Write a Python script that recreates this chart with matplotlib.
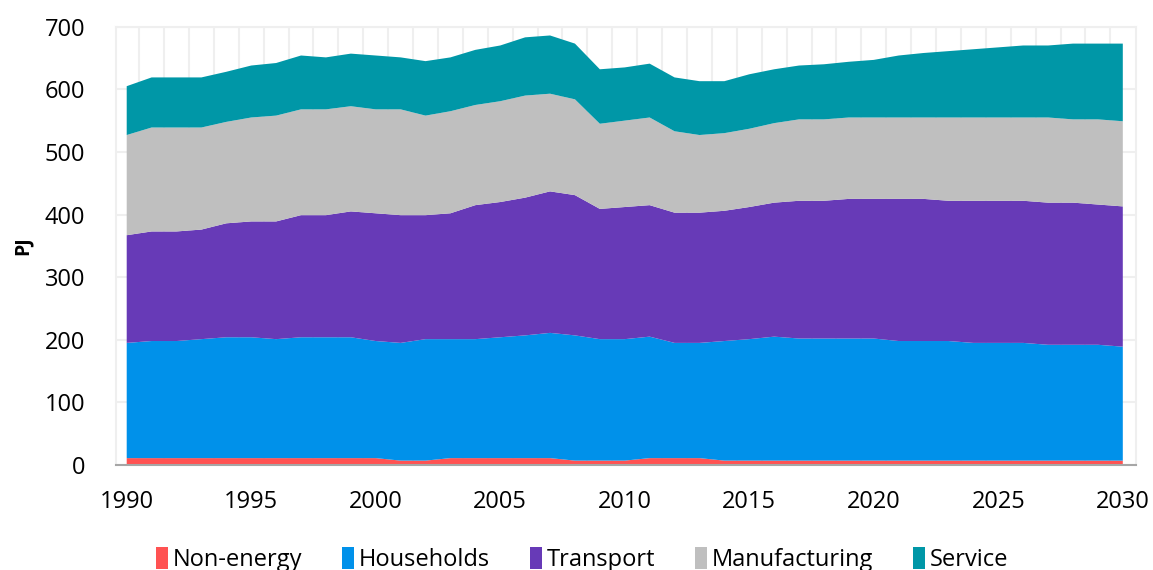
import numpy as np
import matplotlib
matplotlib.use("Agg")
import matplotlib.pyplot as plt
from matplotlib.ticker import MultipleLocator, FixedLocator

# data (PJ by sector)
years = list(range(1990, 2031))
non_energy = [11, 11, 11, 11, 11, 11, 11, 11, 11, 11, 11, 7, 7, 11, 11, 11, 11, 11, 7, 7,
              7, 11, 11, 11, 7, 7, 7, 7, 7, 7, 7, 7, 7, 7, 7, 7, 7, 7, 7, 7, 7]
households = [184, 187, 187, 190, 193, 193, 190, 193, 193, 193, 187, 188, 194, 190, 190, 193, 196, 200, 200, 194,
              194, 194, 184, 184, 191, 194, 198, 195, 195, 195, 195, 191, 191, 191, 188, 188, 188, 185, 185, 185, 182]
transport = [172, 175, 175, 175, 182, 185, 188, 195, 195, 201, 204, 204, 198, 201, 214, 216, 220, 226, 224, 208,
             211, 210, 208, 208, 208, 211, 214, 220, 220, 223, 223, 227, 227, 224, 227, 227, 227, 227, 227, 224, 224]
manufacturing = [160, 166, 166, 163, 162, 166, 169, 169, 169, 168, 166, 169, 159, 163, 160, 161, 163, 156, 153, 136,
                 138, 140, 130, 124, 124, 125, 127, 130, 130, 130, 130, 130, 130, 133, 133, 133, 133, 136, 133, 136, 136]
service = [78, 80, 80, 80, 80, 83, 84, 86, 83, 84, 86, 83, 87, 86, 88, 89, 93, 93, 89, 87,
           85, 86, 86, 86, 83, 87, 86, 86, 88, 89, 92, 99, 103, 106, 109, 112, 115, 115, 121, 121, 124]

labels = ["Non-energy", "Households", "Transport", "Manufacturing", "Service"]
colors = ["#FF5252", "#0091EA", "#673AB7", "#BFBFBF", "#0097A7"]

plt.rcParams['font.family'] = ['Open Sans', 'DejaVu Sans']

fig = plt.figure(figsize=(11.53, 5.70), dpi=100)
ax = fig.add_axes([116 / 1153, 1 - 465 / 570, (1136 - 116) / 1153, (465 - 26.7) / 570])

ax.stackplot(years, non_energy, households, transport, manufacturing, service,
             labels=labels, colors=colors, linewidth=0, zorder=2)

ax.set_xlim(1989.57, 2030.53)
ax.set_ylim(0, 700)
ax.yaxis.set_major_locator(MultipleLocator(100))
ax.xaxis.set_major_locator(FixedLocator(list(range(1990, 2031, 5))))
ax.xaxis.set_minor_locator(FixedLocator([y + 0.5 for y in range(1990, 2030)]))

ax.grid(True, axis='y', which='major', color='#EFEFEF', linewidth=1.5, zorder=0)
ax.grid(True, axis='x', which='minor', color='#EFEFEF', linewidth=1.5, zorder=0)
ax.set_axisbelow(True)

for side in ['top', 'right', 'left']:
    ax.spines[side].set_color('#EFEFEF')
    ax.spines[side].set_linewidth(1.5)
ax.spines['bottom'].set_color('#A6A6A6')
ax.spines['bottom'].set_linewidth(1.5)
ax.spines['bottom'].set_zorder(3)

ax.tick_params(axis='both', which='both', length=0, labelsize=17, colors='black')
ax.tick_params(axis='y', pad=22)
ax.tick_params(axis='x', pad=18)

ax.set_ylabel("PJ", fontsize=14, fontweight='bold', labelpad=9)

fig.legend(loc='center', bbox_to_anchor=(0.505, 0.018), ncol=5, frameon=False,
           fontsize=17, handlelength=0.5, handleheight=1.0, handletextpad=0.2,
           columnspacing=1.7, borderaxespad=0)

fig.savefig("out.png", dpi=100, facecolor='white')
